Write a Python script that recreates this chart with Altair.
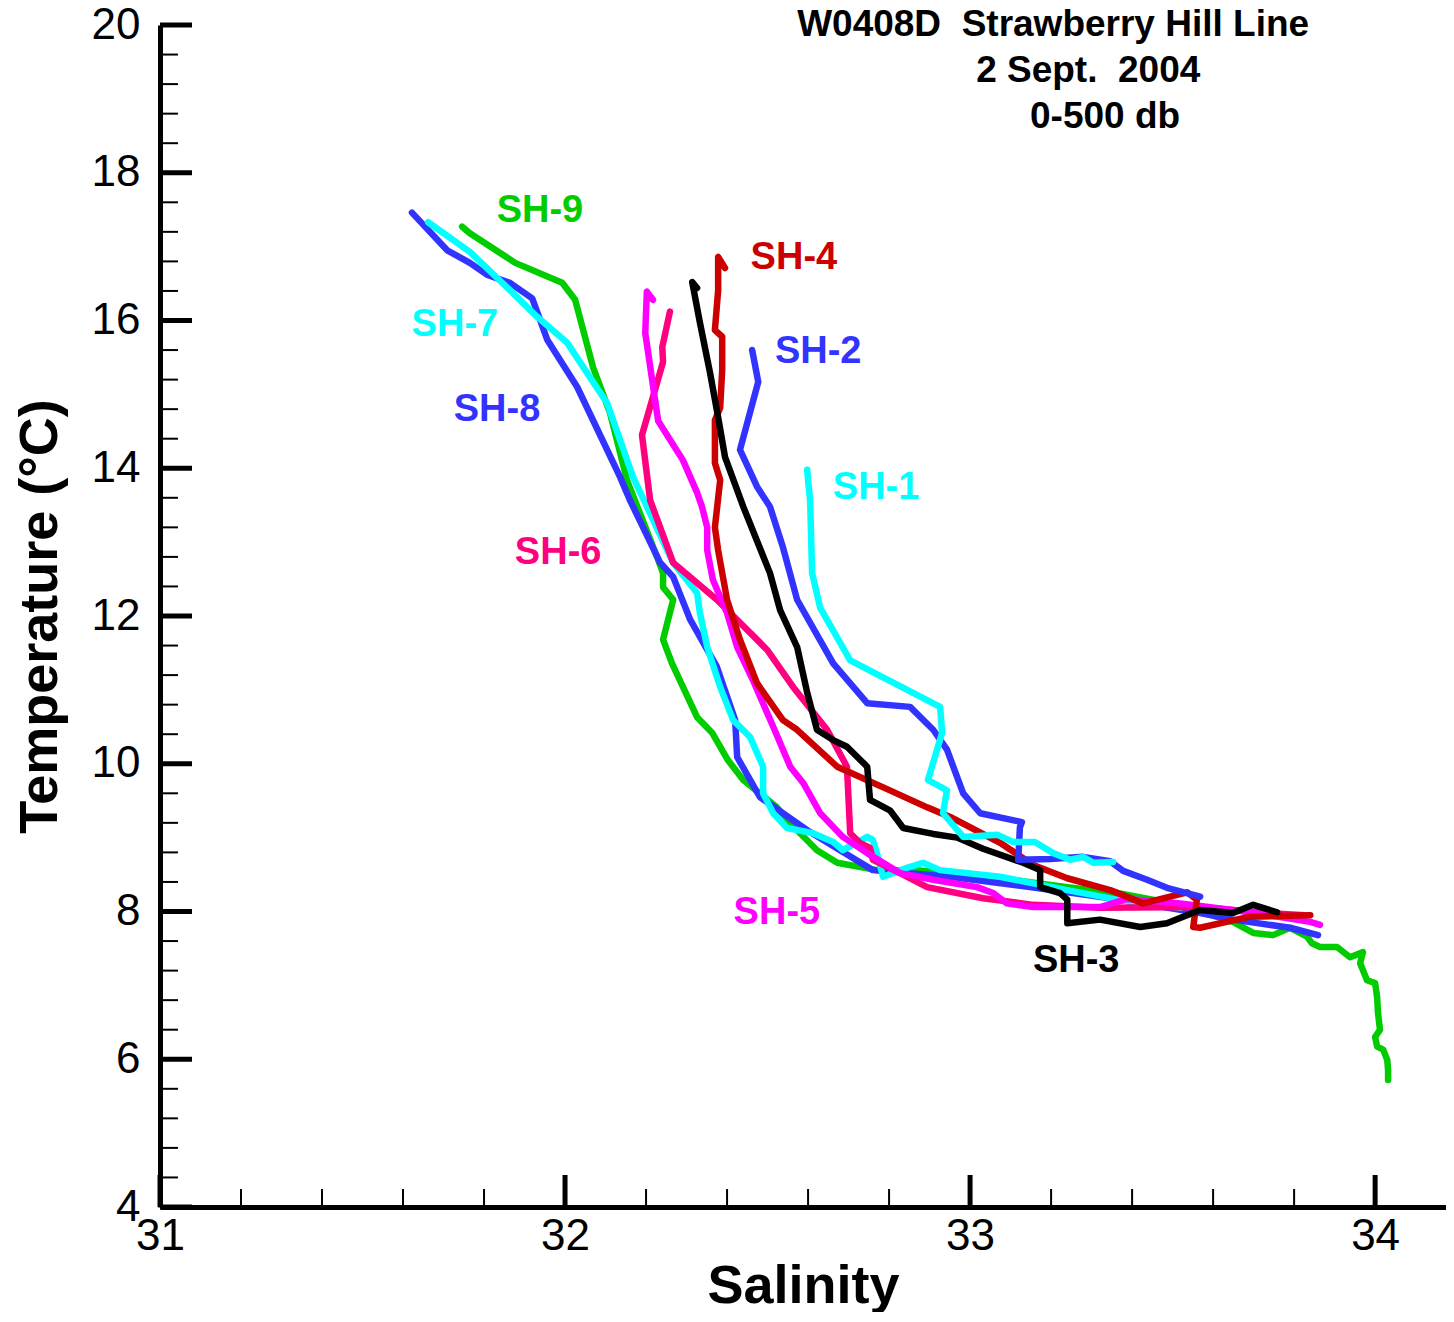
import altair as alt
import pandas as pd

# ---------------- data ----------------
sh9_sal = [31.746, 31.765, 31.877, 31.993, 32.025, 32.069, 32.111, 32.153, 32.227, 32.242,
           32.242, 32.267, 32.242, 32.264, 32.326, 32.363, 32.402, 32.440, 32.523, 32.573,
           32.622, 32.672, 32.770, 32.869, 33.074, 33.240, 33.363, 33.519, 33.649, 33.699,
           33.748, 33.790, 33.832, 33.844, 33.864, 33.906, 33.938, 33.970, 33.963, 33.980,
           34.000, 34.005, 34.007, 34.012, 34.000, 34.005, 34.020, 34.030, 34.032, 34.032]
sh9_temp = [17.27, 17.18, 16.78, 16.51, 16.28, 15.37, 14.75, 13.84, 12.80, 12.58,
            12.39, 12.22, 11.68, 11.36, 10.63, 10.42, 10.05, 9.78, 9.41, 9.10,
            8.83, 8.66, 8.56, 8.56, 8.45, 8.33, 8.25, 8.09, 7.86, 7.71,
            7.68, 7.78, 7.66, 7.57, 7.52, 7.52, 7.38, 7.45, 7.30, 7.07,
            7.03, 6.84, 6.63, 6.40, 6.30, 6.17, 6.13, 5.99, 5.85, 5.72]

sh8_sal = [31.622, 31.709, 31.765, 31.807, 31.864, 31.919, 31.956, 32.030, 32.136, 32.160,
           32.235, 32.267, 32.309, 32.375, 32.420, 32.425, 32.481, 32.538, 32.598, 32.679,
           32.760, 32.951, 33.148, 33.346, 33.568, 33.649, 33.790, 33.859]
sh8_temp = [17.46, 16.95, 16.78, 16.62, 16.51, 16.30, 15.74, 15.10, 13.88, 13.57,
            12.72, 12.53, 11.95, 11.31, 10.59, 10.09, 9.55, 9.33, 9.10, 8.83,
            8.56, 8.47, 8.33, 8.18, 7.98, 7.89, 7.78, 7.68]

sh7_sal = [31.662, 31.765, 31.864, 31.931, 32.005, 32.104, 32.168, 32.267, 32.326, 32.333,
           32.351, 32.383, 32.415, 32.457, 32.489, 32.489, 32.514, 32.548, 32.612, 32.662,
           32.686, 32.746, 32.760, 32.770, 32.785, 32.844, 32.884, 32.926, 33.074, 33.240,
           33.363, 33.519]
sh7_temp = [17.33, 16.93, 16.41, 16.05, 15.70, 14.88, 13.88, 12.72, 12.31, 12.04,
            11.58, 11.04, 10.59, 10.36, 9.96, 9.60, 9.33, 9.13, 9.06, 8.94,
            8.83, 9.01, 8.97, 8.79, 8.47, 8.59, 8.66, 8.56, 8.47, 8.29,
            8.16, 8.05]

sh6_sal = [32.259, 32.240, 32.242, 32.190, 32.210, 32.267, 32.375, 32.474, 32.499, 32.563,
           32.647, 32.696, 32.704, 32.728, 32.753, 32.760, 32.827, 32.894, 33.032, 33.156,
           33.321, 33.568, 33.733, 33.827]
sh6_temp = [16.12, 15.64, 15.44, 14.45, 13.57, 12.72, 12.22, 11.68, 11.54, 11.04,
            10.46, 9.96, 9.06, 8.93, 8.86, 8.70, 8.52, 8.33, 8.18, 8.09,
            8.05, 8.06, 7.98, 7.95]

sh5_sal = [32.217, 32.202, 32.198, 32.230, 32.291, 32.326, 32.338, 32.351, 32.351, 32.365,
           32.400, 32.425, 32.464, 32.514, 32.556, 32.588, 32.630, 32.686, 32.746, 32.827,
           32.909, 33.017, 33.057, 33.091, 33.156, 33.321, 33.388, 33.519, 33.691, 33.840,
           33.864]
sh5_temp = [16.28, 16.39, 15.83, 14.64, 14.11, 13.67, 13.48, 13.20, 12.89, 12.49,
            12.04, 11.58, 11.13, 10.50, 9.96, 9.74, 9.33, 9.01, 8.79, 8.52,
            8.43, 8.33, 8.25, 8.11, 8.06, 8.06, 8.17, 8.11, 7.99, 7.86,
            7.82]

sh4_sal = [32.395, 32.378, 32.378, 32.370, 32.388, 32.388, 32.383, 32.370, 32.370, 32.383,
           32.370, 32.378, 32.400, 32.432, 32.474, 32.538, 32.573, 32.672, 32.802, 32.894,
           32.951, 33.074, 33.156, 33.240, 33.346, 33.427, 33.536, 33.560, 33.551, 33.568,
           33.691, 33.840]
sh4_temp = [16.71, 16.86, 16.41, 15.87, 15.78, 15.33, 14.82, 14.65, 14.07, 13.84,
            13.20, 12.89, 12.22, 11.68, 11.09, 10.59, 10.46, 9.96, 9.64, 9.41,
            9.28, 8.93, 8.63, 8.45, 8.29, 8.11, 8.26, 8.16, 7.79, 7.78,
            7.93, 7.95]

sh3_sal = [32.326, 32.314, 32.333, 32.358, 32.378, 32.395, 32.440, 32.506, 32.531, 32.573,
           32.598, 32.622, 32.662, 32.696, 32.746, 32.753, 32.802, 32.835, 32.909, 32.968,
           33.032, 33.131, 33.173, 33.173, 33.222, 33.240, 33.240, 33.321, 33.420, 33.486,
           33.568, 33.649, 33.699, 33.758]
sh3_temp = [16.44, 16.52, 15.97, 15.29, 14.69, 14.15, 13.48, 12.58, 12.08, 11.58,
            10.96, 10.46, 10.32, 10.23, 9.96, 9.51, 9.37, 9.13, 9.05, 9.00,
            8.85, 8.66, 8.56, 8.33, 8.25, 8.16, 7.84, 7.89, 7.79, 7.84,
            8.02, 7.98, 8.09, 7.99]

sh2_sal = [32.462, 32.477, 32.432, 32.474, 32.506, 32.538, 32.573, 32.662, 32.746, 32.852,
           32.909, 32.943, 32.983, 33.025, 33.128, 33.123, 33.119, 33.198, 33.279, 33.346,
           33.378, 33.437, 33.486, 33.568]
sh2_temp = [15.60, 15.17, 14.25, 13.75, 13.48, 12.93, 12.22, 11.36, 10.82, 10.77,
            10.46, 10.19, 9.60, 9.33, 9.21, 9.14, 8.70, 8.71, 8.74, 8.68,
            8.55, 8.43, 8.32, 8.20]

sh1_sal = [32.598, 32.600, 32.605, 32.610, 32.630, 32.704, 32.926, 32.931, 32.896, 32.943,
           32.933, 32.983, 33.067, 33.106, 33.160, 33.205, 33.247, 33.279, 33.304, 33.353]
sh1_temp = [13.98, 13.84, 13.57, 12.58, 12.11, 11.40, 10.77, 10.42, 9.78, 9.64,
            9.33, 9.01, 9.04, 8.94, 8.94, 8.79, 8.70, 8.74, 8.66, 8.67]

# drawing order (first drawn at the bottom)
station_names = ["SH-9", "SH-8", "SH-7", "SH-6", "SH-5", "SH-4", "SH-3", "SH-2", "SH-1"]
station_colors = ["#00CC00", "#3333FF", "#00FFFF", "#FF0080", "#FF00FF",
                  "#CC0000", "#000000", "#3333FF", "#00FFFF"]
station_sal = [sh9_sal, sh8_sal, sh7_sal, sh6_sal, sh5_sal, sh4_sal, sh3_sal, sh2_sal, sh1_sal]
station_temp = [sh9_temp, sh8_temp, sh7_temp, sh6_temp, sh5_temp, sh4_temp, sh3_temp, sh2_temp, sh1_temp]

# station labels (centre of text)
label_sal = [31.938, 31.832, 31.728, 31.983, 32.523, 32.565, 33.262, 32.625, 32.768]
label_temp = [17.48, 14.79, 15.94, 12.85, 7.98, 16.85, 7.33, 15.57, 13.73]

title_lines = ["W0408D\u00a0 Strawberry Hill Line", "2 Sept.\u00a0 2004", "0-500 db"]
title_sal = [32.573, 33.015, 33.148]
title_temp = [19.85, 19.23, 18.61]

x_major = [31, 32, 33, 34]
x_minor = [round(31 + 0.2 * k, 1) for k in range(16) if k % 5 != 0]
y_major = [4, 6, 8, 10, 12, 14, 16, 18, 20]
y_minor = [round(4 + 0.4 * k, 1) for k in range(41) if k % 5 != 0]

# ---------------- build tables ----------------
rows = []
for name, sal, temp in zip(station_names, station_sal, station_temp):
    for i, (s, t) in enumerate(zip(sal, temp)):
        rows.append({"station": name, "S": s, "T": t, "i": i})
lines_df = pd.DataFrame(rows)
labels_df = pd.DataFrame({"station": station_names, "S": label_sal, "T": label_temp})
title_df = pd.DataFrame({"txt": title_lines, "S": title_sal, "T": title_temp})

W, H = 1286, 1182
FONT = "Liberation Sans"

xs = alt.Scale(domain=[31, 34.175], nice=False, zero=False)
ys = alt.Scale(domain=[4, 20], nice=False, zero=False)
color_scale = alt.Scale(domain=station_names, range=station_colors)

x_axis = alt.Axis(values=x_major, format="d", title="Salinity", grid=False, ticks=False, tickSize=0,
                  domainColor="black", domainWidth=5, labelFont=FONT, labelFontSize=44,
                  labelColor="black", labelPadding=42, labelBaseline="alphabetic",
                  labelFlush=False, labelOverlap=False,
                  titleFont=FONT, titleFontSize=54, titleFontWeight="bold", titleColor="black",
                  titleBaseline="alphabetic", titleY=95)
y_axis = alt.Axis(values=y_major, format="d", title="Temperature (°C)", grid=False, ticks=False, tickSize=0,
                  domainColor="black", domainWidth=5, labelFont=FONT, labelFontSize=44,
                  labelColor="black", labelPadding=20, labelFlush=False, labelOverlap=False,
                  titleFont=FONT, titleFontSize=54, titleFontWeight="bold", titleColor="black",
                  titleAngle=270, titleBaseline="alphabetic", titleAlign="center",
                  titleX=-104, titleY=H / 2)

lines = alt.Chart(lines_df).mark_line(strokeWidth=6.5, strokeCap="round", strokeJoin="round").encode(
    x=alt.X("S:Q", scale=xs, axis=x_axis),
    y=alt.Y("T:Q", scale=ys, axis=y_axis),
    color=alt.Color("station:N", scale=color_scale, legend=None),
    detail="station:N",
    order=alt.Order("i:Q"),
)

xmaj_df = pd.DataFrame({"S": x_major})
xmin_df = pd.DataFrame({"S": x_minor})
ymaj_df = pd.DataFrame({"T": y_major})
ymin_df = pd.DataFrame({"T": y_minor})

xmaj = alt.Chart(xmaj_df).mark_rule(color="black", strokeWidth=5).encode(
    x=alt.X("S:Q", scale=xs, axis=x_axis), y=alt.value(H), y2=alt.value(H - 32))
xmin = alt.Chart(xmin_df).mark_rule(color="black", strokeWidth=2).encode(
    x=alt.X("S:Q", scale=xs, axis=x_axis), y=alt.value(H), y2=alt.value(H - 18))
ymaj = alt.Chart(ymaj_df).mark_rule(color="black", strokeWidth=5).encode(
    y=alt.Y("T:Q", scale=ys, axis=y_axis), x=alt.value(0), x2=alt.value(32))
ymin = alt.Chart(ymin_df).mark_rule(color="black", strokeWidth=2).encode(
    y=alt.Y("T:Q", scale=ys, axis=y_axis), x=alt.value(0), x2=alt.value(18))

labels = alt.Chart(labels_df).mark_text(font=FONT, fontSize=38, fontWeight="bold",
                                        align="center", baseline="middle").encode(
    x=alt.X("S:Q", scale=xs, axis=x_axis),
    y=alt.Y("T:Q", scale=ys, axis=y_axis),
    text="station:N",
    color=alt.Color("station:N", scale=color_scale, legend=None),
)

title = alt.Chart(title_df).mark_text(font=FONT, fontSize=37, fontWeight="bold",
                                      align="left", baseline="alphabetic", color="black").encode(
    x=alt.X("S:Q", scale=xs, axis=x_axis),
    y=alt.Y("T:Q", scale=ys, axis=y_axis),
    text="txt:N",
)

chart = alt.layer(lines, xmin, xmaj, ymin, ymaj, labels, title).properties(
    width=W, height=H,
    autosize=alt.AutoSizeParams(type="none"),
    padding={"left": 152, "top": 17, "right": 0, "bottom": 105},
).configure_view(stroke=None)

chart.save("out.html", embed_options={"renderer": "svg", "actions": False})
